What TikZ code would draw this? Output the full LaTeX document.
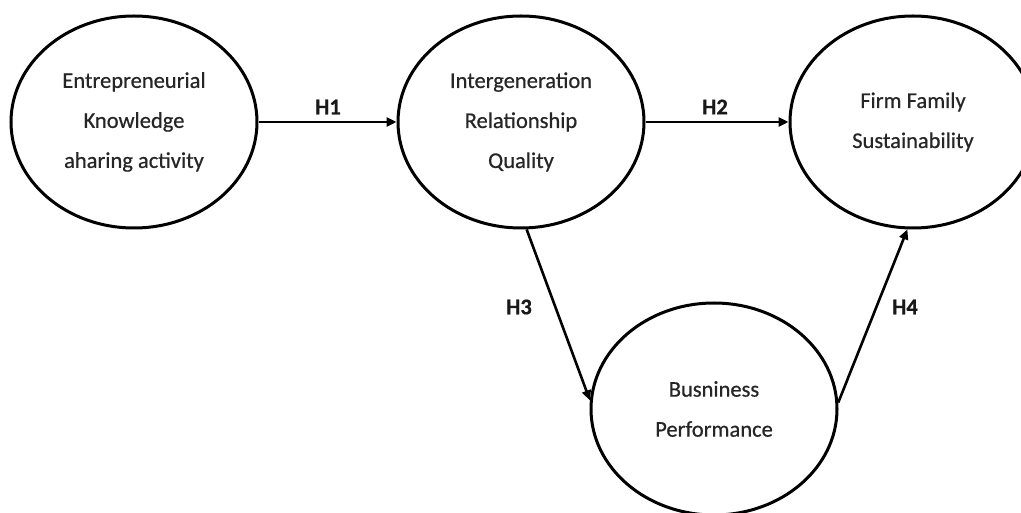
\documentclass[tikz,border=0pt]{standalone}
\usepackage{fontspec}
\setmainfont[FakeBold=0.6]{Carlito}
\usetikzlibrary{shapes.geometric,arrows.meta}
\begin{document}
\begin{tikzpicture}[x=1pt,y=-1pt,
  construct/.style={draw, line width=3pt, ellipse, minimum width=246pt, minimum height=212pt,
    inner sep=0pt, align=center, font=\fontsize{22.5}{40}\selectfont, text=black!85},
  link/.style={line width=2.6pt, -{Triangle[length=10pt,width=9pt]}},
  hlabel/.style={font=\fontsize{22.5}{27}\selectfont\bfseries, text=black!90}]
\useasboundingbox (0,0) rectangle (1021,513);
\node[construct] (ek) at (134,122) {Entrepreneurial\\Knowledge\\aharing activity};
\node[construct] (irq) at (521,122) {Intergeneration\\Relationship\\Quality};
\node[construct] (ffs) at (913,122) {Firm Family\\Sustainability};
\node[construct] (bp) at (714,409) {Busniness\\Performance};
\draw[link] (ek.east) -- (irq.west);
\draw[link] (irq.east) -- (ffs.west);
\draw[link] (irq.-87) -- (bp.176);
\draw[link] (bp.3) -- (ffs.-93);
\node[hlabel] (h1) at (328,107) {H1};
\node[hlabel] (h2) at (715,107) {H2};
\node[hlabel] (h3) at (519,307) {H3};
\node[hlabel] (h4) at (905,307) {H4};
\end{tikzpicture}
\end{document}
